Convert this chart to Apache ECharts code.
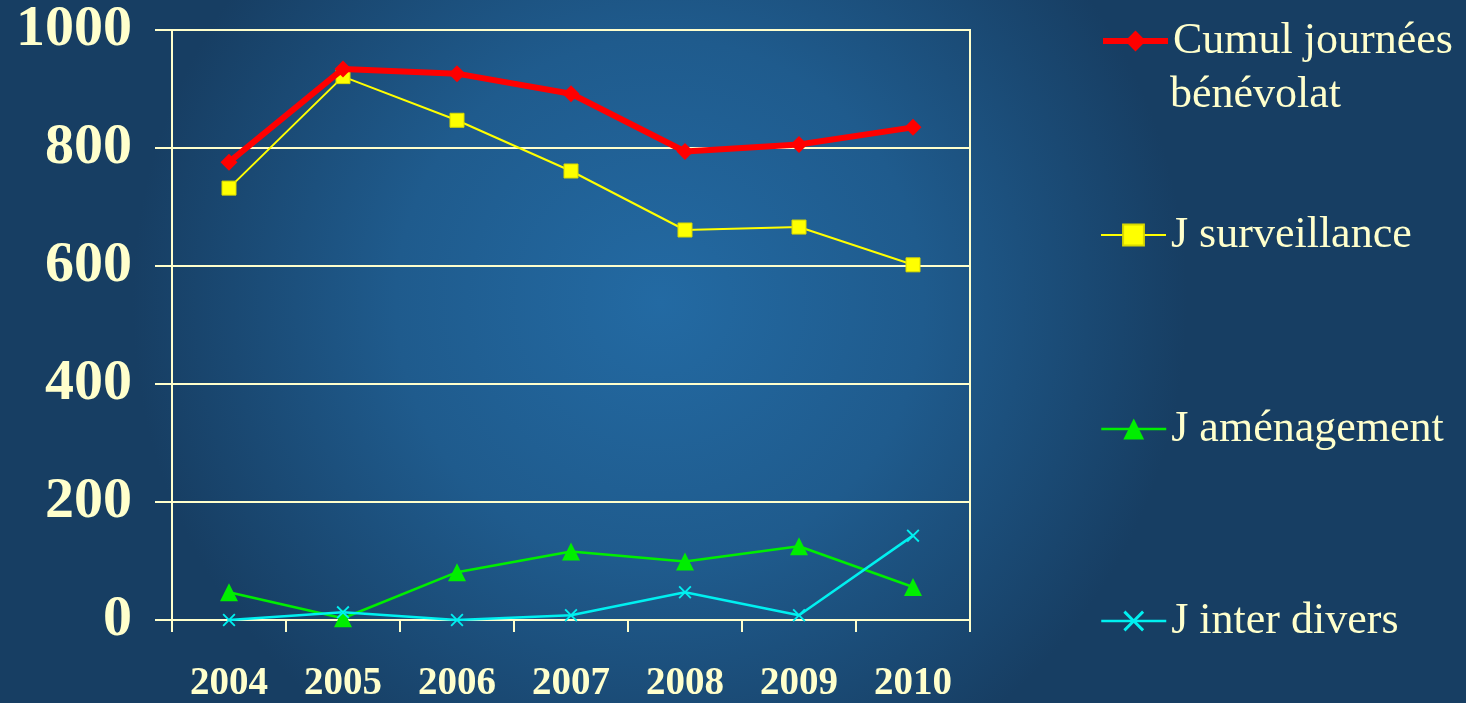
<!DOCTYPE html>
<html><head><meta charset="utf-8">
<script src="https://cdn.jsdelivr.net/npm/echarts@6/dist/echarts.min.js"></script>
<style>html,body{margin:0;padding:0;}#c{width:1466px;height:703px;}</style>
</head><body><div id="c"></div>
<script>
const years = ['2004','2005','2006','2007','2008','2009','2010'];
const yTicks = [0, 200, 400, 600, 800, 1000];
const cumul = [776, 934, 926, 892, 794, 806, 835];
const surveillance = [732, 921, 847, 761, 661, 666, 602];
const amenagement = [47, 3, 81, 116, 99, 125, 56];
const interDivers = [0, 13, 0, 8, 47, 8, 143];
const names = ['Cumul journées', 'J surveillance', 'J aménagement', 'J inter divers'];
const cumulLine2 = 'bénévolat';

const txt = '#ffffcc';
const crossPath = 'path://M0,1 L1,0 L5,4 L9,0 L10,1 L6,5 L10,9 L9,10 L5,6 L1,10 L0,9 L4,5 Z';
const chart = echarts.init(document.getElementById('c'), null, {renderer: 'canvas'});
const legendBase = {
  orient: 'vertical', left: 1095, itemWidth: 65, itemHeight: 26, itemGap: 8,
  selectedMode: false,
  textStyle: {color: txt, fontFamily: 'Liberation Serif', fontSize: 44, lineHeight: 52}
};
chart.setOption({
  backgroundColor: {
    type: 'radial', x: 0.45, y: 0.43, r: 0.75,
    colorStops: [
      {offset: 0, color: '#236aa3'},
      {offset: 0.5, color: '#1f5b8d'},
      {offset: 1, color: '#173e63'}
    ]
  },
  animation: false,
  grid: {left: 172, right: 496, top: 30, bottom: 80, show: true, borderColor: txt, borderWidth: 2},
  xAxis: {
    type: 'category', data: years, boundaryGap: true,
    axisLine: {lineStyle: {color: txt, width: 2}},
    axisTick: {show: true, length: 12, lineStyle: {color: txt, width: 2}},
    axisLabel: {color: txt, fontFamily: 'Liberation Serif', fontWeight: 'bold', fontSize: 39, margin: 44}
  },
  yAxis: {
    type: 'value', min: yTicks[0], max: yTicks[yTicks.length - 1], interval: 200,
    axisLine: {show: true, lineStyle: {color: txt, width: 2}},
    axisTick: {show: true, length: 17, lineStyle: {color: txt, width: 2}},
    splitLine: {lineStyle: {color: txt, width: 2}},
    axisLabel: {color: txt, fontFamily: 'Liberation Serif', fontWeight: 'bold', fontSize: 58, margin: 40,
      formatter: v => String(v)}
  },
  legend: [
    Object.assign({}, legendBase, {top: 10, data: [names[0]], lineStyle: {width: 6}}),
    Object.assign({}, legendBase, {top: 204, data: [names[1]], lineStyle: {width: 2}}),
    Object.assign({}, legendBase, {top: 398, data: [names[2]], lineStyle: {width: 2.5}}),
    Object.assign({}, legendBase, {top: 590, data: [names[3]], lineStyle: {width: 2.5}})
  ],
  graphic: [{
    type: 'text', left: 1170, top: 73,
    style: {text: cumulLine2, fill: txt, font: '44px "Liberation Serif"'}
  }],
  series: [
    {name: names[0], type: 'line', data: cumul, symbol: 'diamond', symbolSize: 17,
      lineStyle: {color: '#ff0000', width: 6}, itemStyle: {color: '#ff0000'}, z: 5},
    {name: names[1], type: 'line', data: surveillance, symbol: 'rect', symbolSize: 14,
      lineStyle: {color: '#ffff00', width: 2}, itemStyle: {color: '#ffff00', borderColor: '#d8d800', borderWidth: 1}, z: 4},
    {name: names[2], type: 'line', data: amenagement, symbol: 'triangle', symbolSize: 18,
      lineStyle: {color: '#00ee00', width: 2.5}, itemStyle: {color: '#00ee00'}, z: 3},
    {name: names[3], type: 'line', data: interDivers, symbol: crossPath, symbolSize: 13,
      lineStyle: {color: '#00f0f0', width: 2.5}, itemStyle: {color: '#00f0f0'}, z: 3}
  ]
});
</script></body></html>
